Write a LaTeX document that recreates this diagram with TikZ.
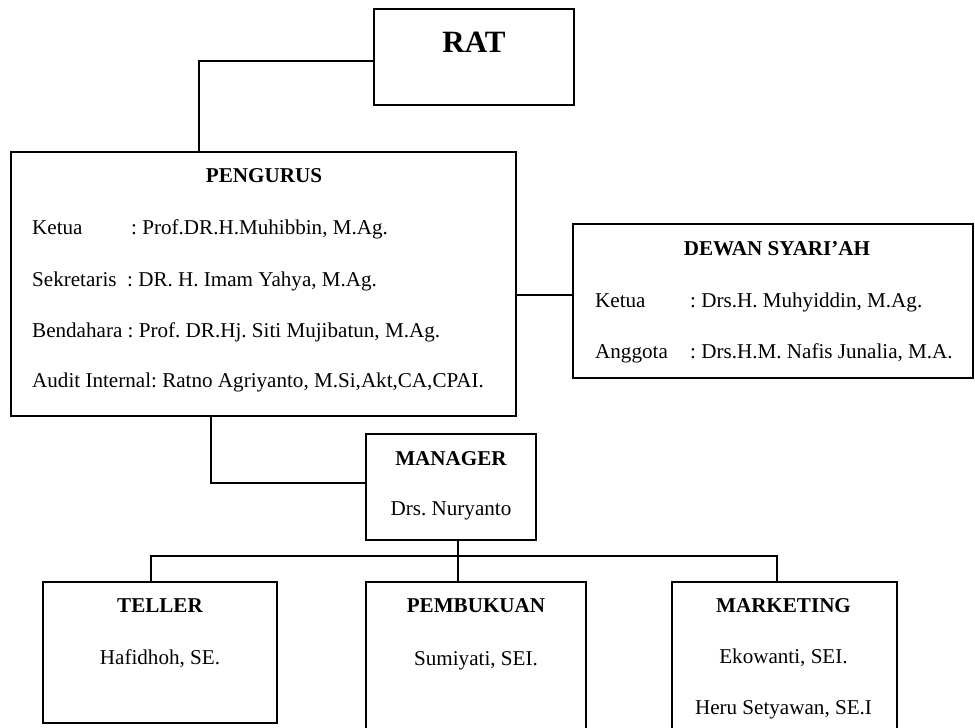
\documentclass[tikz,border=0pt]{standalone}
\usepackage{fontspec}
\setmainfont{Liberation Serif}
\begin{document}
\frenchspacing
\begin{tikzpicture}[x=1pt,y=-1pt,
  box/.style={draw, line width=1.8pt, rectangle, inner sep=0pt},
  conn/.style={line width=1.5pt},
  txt/.style={inner sep=0pt, font=\fontsize{21.1}{24}\selectfont},
  ttl/.style={inner sep=0pt, font=\fontsize{21.1}{24}\selectfont\bfseries},
  big/.style={inner sep=0pt, font=\fontsize{31}{36}\selectfont\bfseries}]
\clip (0,0) rectangle (975,728);
\fill[white] (0,0) rectangle (975,728);
% boxes
\node[box, minimum width=200pt, minimum height=96pt] (rat) at (474,57) {};
\node[box, minimum width=505pt, minimum height=264pt] (peng) at (263.5,284) {};
\node[box, minimum width=400pt, minimum height=154pt] (dew) at (773,301) {};
\node[box, minimum width=170pt, minimum height=106pt] (mgr) at (451,487) {};
\node[box, minimum width=234pt, minimum height=141pt] (tel) at (160,652.5) {};
\node[box, minimum width=220pt, minimum height=158pt] (pemb) at (476,661) {};
\node[box, minimum width=225pt, minimum height=158pt] (mkt) at (784.5,661) {};
% texts
\node[big, anchor=base] (tRat) at (474,52) {RAT};
\node[ttl, anchor=base] (tPeng) at (264,182) {PENGURUS};
\node[txt, anchor=base west] (tK1) at (32,234) {Ketua};
\node[txt, anchor=base west] (tK2) at (131,234) {: Prof.DR.H.Muhibbin, M.Ag.};
\node[txt, anchor=base west] (tS) at (32,286) {Sekretaris\ \ : DR. H. Imam Yahya, M.Ag.};
\node[txt, anchor=base west] (tB) at (32,337) {Bendahara : Prof. DR.Hj. Siti Mujibatun, M.Ag.};
\node[txt, anchor=base west] (tA) at (32,387) {Audit Internal: Ratno Agriyanto, M.Si,Akt,CA,CPAI.};
\node[ttl, anchor=base] (tDew) at (777,255) {DEWAN SYARI’AH};
\node[txt, anchor=base west] (tDk1) at (595,307) {Ketua};
\node[txt, anchor=base west] (tDk2) at (690,307) {: Drs.H. Muhyiddin, M.Ag.};
\node[txt, anchor=base west] (tDa1) at (595,358) {Anggota};
\node[txt, anchor=base west] (tDa2) at (690,358) {: Drs.H.M. Nafis Junalia, M.A.};
\node[ttl, anchor=base] (tMgr) at (451,465) {MANAGER};
\node[txt, anchor=base] (tMgr2) at (451,515) {Drs. Nuryanto};
\node[ttl, anchor=base] (tTel) at (160,612) {TELLER};
\node[txt, anchor=base] (tTel2) at (160,664) {Hafidhoh, SE.};
\node[ttl, anchor=base] (tPemb) at (476,612) {PEMBUKUAN};
\node[txt, anchor=base] (tPemb2) at (476,665) {Sumiyati, SEI.};
\node[ttl, anchor=base] (tMkt) at (783.5,612) {MARKETING};
\node[txt, anchor=base] (tMkt2) at (783.5,663) {Ekowanti, SEI.};
\node[txt, anchor=base] (tMkt3) at (783.5,714) {Heru Setyawan, SE.I};
% connectors
\draw[conn] ([yshift=-4pt]rat.west) -| ([xshift=-64.5pt]peng.north);
\draw[conn] ([yshift=6pt]dew.west) -- ([yshift=6pt]dew.west -| peng.east);
\draw[conn] ([xshift=-52.5pt]peng.south) |- ([yshift=4pt]mgr.west);
\coordinate (mb) at ([xshift=7pt]mgr.south);
\draw[conn] (mb) -- (mb |- pemb.north);
\draw[conn] ([xshift=-9pt]tel.north) -- ++(0,-25) -| ([xshift=-7.5pt]mkt.north);
\end{tikzpicture}
\end{document}
